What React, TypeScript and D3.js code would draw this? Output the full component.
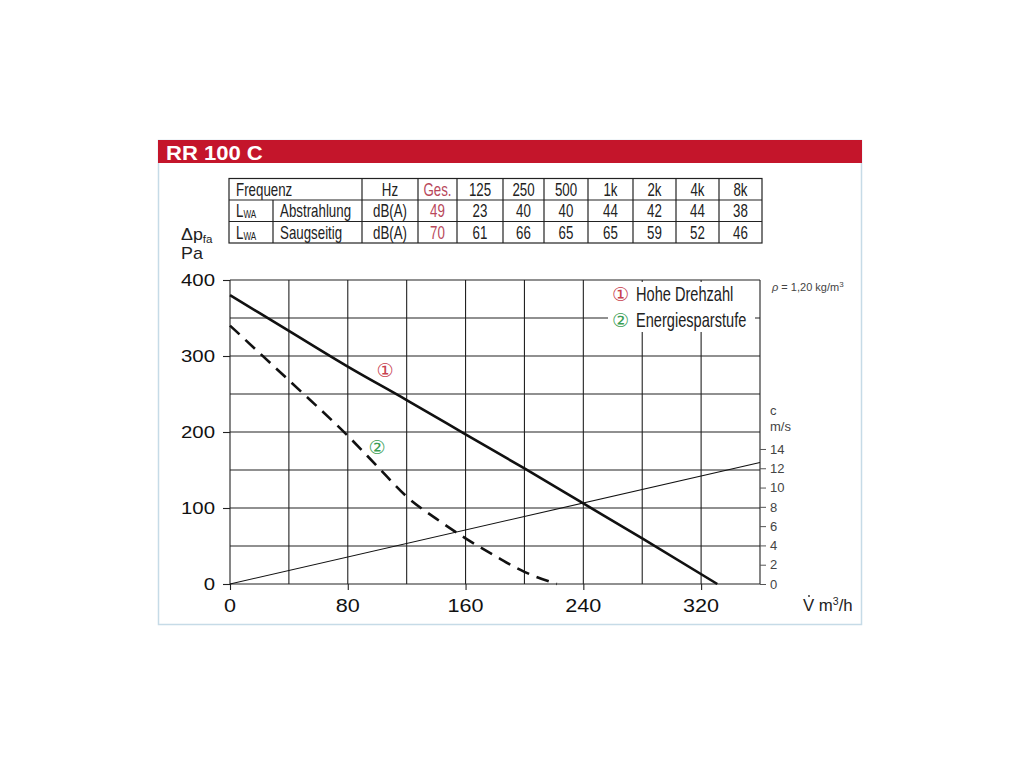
import { useRef, useEffect } from "react";
import * as d3 from "d3";

// noise table
const bandLabels = ["125", "250", "500", "1k", "2k", "4k", "8k"];
const abstrahlungTotal = 49;
const abstrahlung = [23, 40, 40, 44, 42, 44, 38];
const saugseitigTotal = 70;
const saugseitig = [61, 66, 65, 65, 59, 52, 46];

// fan curves (V m3/h -> dp Pa)
const hoheV = [0, 40, 80, 120, 160, 200, 240, 280, 331];
const hoheP = [380, 333, 286, 242, 197, 152, 106, 60, 0];
const sparV = [0, 40, 80, 100, 120, 140, 160, 180, 200, 222];
const sparP = [340, 268, 195, 155, 115, 86, 60, 37, 16, 0];

// duct velocity (V m3/h -> c m/s)
const veloV = [0, 360];
const veloC = [0, 12.6];

const xTicks = [0, 80, 160, 240, 320];
const yTicks = [0, 100, 200, 300, 400];
const cTicks = [0, 2, 4, 6, 8, 10, 12, 14];

const SANS = "'Liberation Sans', Arial, sans-serif";
const CIRC = "'DejaVu Sans', sans-serif";
const RED = "#c4152b";
const NUM_RED = "#b8485a";
const MARK_RED = "#c8414f";
const GREEN = "#3b9e55";

type Sel = d3.Selection<any, unknown, null, undefined>;

// text squeezed / stretched horizontally around its anchor
function stext(
  parent: Sel, x: number, y: number, str: string,
  size: number, sx: number, anchor = "start", fill = "#222", weight = "normal",
) {
  const t = parent.append("g")
    .attr("transform", `translate(${x},${y}) scale(${sx},1)`)
    .append("text")
    .attr("font-family", SANS).attr("font-size", size).attr("font-weight", weight)
    .attr("text-anchor", anchor).attr("fill", fill);
  if (str) t.text(str);
  return t;
}

export default function App() {
  const svgRef = useRef<SVGSVGElement>(null);

  useEffect(() => {
    if (!svgRef.current) return;
    const svg = d3.select(svgRef.current) as Sel;
    svg.selectAll("*").remove();

    svg.append("rect").attr("width", 1024).attr("height", 768).attr("fill", "#fff");

    // panel
    svg.append("rect")
      .attr("x", 158.5).attr("y", 140.5).attr("width", 703).attr("height", 484)
      .attr("fill", "#fff").attr("stroke", "#c6dbe7").attr("stroke-width", 1.5);
    svg.append("rect")
      .attr("x", 158).attr("y", 140).attr("width", 704).attr("height", 23)
      .attr("fill", RED);
    stext(svg, 166, 160, "RR 100 C", 21, 1.05, "start", "#fff", "bold");

    // ---- table
    const colX = [229, 362, 418, 457, 503, 544, 588, 633, 676, 719, 762];
    const subX = 273;
    const rowY = [178.5, 200, 221.5, 243];
    const tg = svg.append("g");
    const TS = 18;
    const TX = 0.74;
    tg.append("rect")
      .attr("x", colX[0]).attr("y", rowY[0])
      .attr("width", colX[colX.length - 1] - colX[0]).attr("height", rowY[3] - rowY[0])
      .attr("fill", "none").attr("stroke", "#222").attr("stroke-width", 1.2);
    rowY.slice(1, 3).forEach((yy) =>
      tg.append("line").attr("x1", colX[0]).attr("x2", colX[colX.length - 1])
        .attr("y1", yy).attr("y2", yy).attr("stroke", "#222").attr("stroke-width", 1.2));
    colX.slice(1, -1).forEach((xx) =>
      tg.append("line").attr("x1", xx).attr("x2", xx)
        .attr("y1", rowY[0]).attr("y2", rowY[3]).attr("stroke", "#222").attr("stroke-width", 1.2));
    tg.append("line").attr("x1", subX).attr("x2", subX)
      .attr("y1", rowY[1]).attr("y2", rowY[3]).attr("stroke", "#222").attr("stroke-width", 1.2);

    const cellText = (txt: string, ci: number, ri: number, fill = "#222") =>
      stext(tg, (colX[ci] + colX[ci + 1]) / 2, rowY[ri + 1] - 4.5, txt, TS, TX, "middle", fill);

    stext(tg, 236, rowY[1] - 4.5, "Frequenz", TS, TX);
    cellText("Hz", 1, 0);
    cellText("Ges.", 2, 0, NUM_RED);
    bandLabels.forEach((b, i) => cellText(b, 3 + i, 0));

    const rows = [
      { name: "Abstrahlung", total: abstrahlungTotal, vals: abstrahlung },
      { name: "Saugseitig", total: saugseitigTotal, vals: saugseitig },
    ];
    rows.forEach((r, k) => {
      const ri = k + 1;
      const t = stext(tg, 236, rowY[ri + 1] - 4.5, "", TS, TX);
      t.append("tspan").text("L");
      t.append("tspan").attr("font-size", 11).attr("dy", 1).text("WA");
      stext(tg, 280, rowY[ri + 1] - 4.5, r.name, TS, TX);
      cellText("dB(A)", 1, ri);
      cellText(String(r.total), 2, ri, NUM_RED);
      r.vals.forEach((v, i) => cellText(String(v), 3 + i, ri));
    });

    // ---- chart
    const x = d3.scaleLinear().domain([0, 360]).range([230, 760]);
    const y = d3.scaleLinear().domain([0, 400]).range([584, 280]);
    const c = d3.scaleLinear().domain([0, 31.52]).range([584, 280]);

    const grid = svg.append("g").attr("stroke", "#222").attr("stroke-width", 1.1);
    d3.range(0, 361, 40).forEach((v) =>
      grid.append("line").attr("x1", x(v)).attr("x2", x(v)).attr("y1", y(0)).attr("y2", y(400)));
    d3.range(0, 401, 50).forEach((v) =>
      grid.append("line").attr("x1", x(0)).attr("x2", x(360)).attr("y1", y(v)).attr("y2", y(v)));

    // white box behind legend
    svg.append("rect").attr("x", 608).attr("y", 282).attr("width", 147).attr("height", 50).attr("fill", "#fff");

    // left axis
    const yAxis = svg.append("g").attr("transform", `translate(${x(0)},0)`)
      .call(d3.axisLeft(y).tickValues(yTicks).tickSize(7).tickFormat(() => ""));
    yAxis.select(".domain").remove();
    yAxis.selectAll(".tick line").attr("stroke", "#222").attr("stroke-width", 1.1);
    yTicks.forEach((v) => stext(svg, 215, y(v) + 6, String(v), 17, 1.2, "end", "#111"));

    // bottom axis
    const xAxis = svg.append("g").attr("transform", `translate(0,${y(0)})`)
      .call(d3.axisBottom(x).tickValues(xTicks).tickSize(6).tickFormat(() => ""));
    xAxis.select(".domain").remove();
    xAxis.selectAll(".tick line").attr("stroke", "#222").attr("stroke-width", 1.1);
    xTicks.forEach((v) => stext(svg, x(v), 611.5, String(v), 18, 1.2, "middle", "#111"));

    // right axis (velocity)
    const cAxis = svg.append("g").attr("transform", `translate(${x(360)},0)`)
      .call(d3.axisRight(c).tickValues(cTicks).tickSize(6).tickPadding(4));
    cAxis.select(".domain").remove();
    cAxis.selectAll(".tick line").attr("stroke", "#555").attr("stroke-width", 1);
    cAxis.selectAll("text").attr("font-family", SANS).attr("font-size", 13).attr("fill", "#444");

    // curves
    const line = d3.line<[number, number]>()
      .x((d) => x(d[0])).y((d) => y(d[1])).curve(d3.curveMonotoneX);
    const veloLine = d3.line<[number, number]>().x((d) => x(d[0])).y((d) => c(d[1]));
    svg.append("path")
      .attr("d", veloLine(veloV.map((v, i) => [v, veloC[i]]))!)
      .attr("fill", "none").attr("stroke", "#111").attr("stroke-width", 1.1);
    svg.append("path")
      .attr("d", line(hoheV.map((v, i) => [v, hoheP[i]]))!)
      .attr("fill", "none").attr("stroke", "#111").attr("stroke-width", 2.6);
    svg.append("path")
      .attr("d", line(sparV.map((v, i) => [v, sparP[i]]))!)
      .attr("fill", "none").attr("stroke", "#111").attr("stroke-width", 2.6)
      .attr("stroke-dasharray", "13 8");

    // curve markers
    svg.append("text").attr("x", 385).attr("y", 377).attr("text-anchor", "middle")
      .attr("font-family", CIRC).attr("font-size", 19).attr("fill", MARK_RED).text("\u2460");
    svg.append("text").attr("x", 377).attr("y", 454).attr("text-anchor", "middle")
      .attr("font-family", CIRC).attr("font-size", 19).attr("fill", GREEN).text("\u2461");

    // legend
    svg.append("text").attr("x", 612).attr("y", 301)
      .attr("font-family", CIRC).attr("font-size", 19).attr("fill", MARK_RED).text("\u2460");
    stext(svg, 636, 301, "Hohe Drehzahl", 20, 0.73);
    svg.append("text").attr("x", 612).attr("y", 327)
      .attr("font-family", CIRC).attr("font-size", 19).attr("fill", GREEN).text("\u2461");
    stext(svg, 636, 327, "Energiesparstufe", 20, 0.73);

    // annotations
    const rho = svg.append("text").attr("x", 772).attr("y", 291)
      .attr("font-family", SANS).attr("font-size", 11).attr("fill", "#444");
    rho.append("tspan").attr("font-style", "italic").text("\u03c1");
    rho.append("tspan").text(" = 1,20 kg/m");
    rho.append("tspan").attr("font-size", 8).attr("dy", -4).text("3");

    svg.append("text").attr("x", 770).attr("y", 415)
      .attr("font-family", SANS).attr("font-size", 13).attr("fill", "#444").text("c");
    svg.append("text").attr("x", 770).attr("y", 431)
      .attr("font-family", SANS).attr("font-size", 13).attr("fill", "#444").text("m/s");

    const dp = stext(svg, 181, 240, "", 17, 1.05, "start", "#222");
    dp.append("tspan").text("\u0394p");
    dp.append("tspan").attr("font-size", 11).attr("dy", 3).text("fa");
    stext(svg, 181, 259, "Pa", 17, 1.05, "start", "#222");

    const vt = stext(svg, 803, 611, "", 16, 1.05, "start", "#222");
    vt.append("tspan").text("V m");
    vt.append("tspan").attr("font-size", 10).attr("dy", -6).text("3");
    vt.append("tspan").attr("dy", 6).text("/h");
    svg.append("circle").attr("cx", 809).attr("cy", 596).attr("r", 0.9).attr("fill", "#222");
  }, []);

  return (
    <svg
      ref={svgRef}
      width={1024}
      height={768}
      style={{ position: "absolute", left: 0, top: 0 }}
    />
  );
}
